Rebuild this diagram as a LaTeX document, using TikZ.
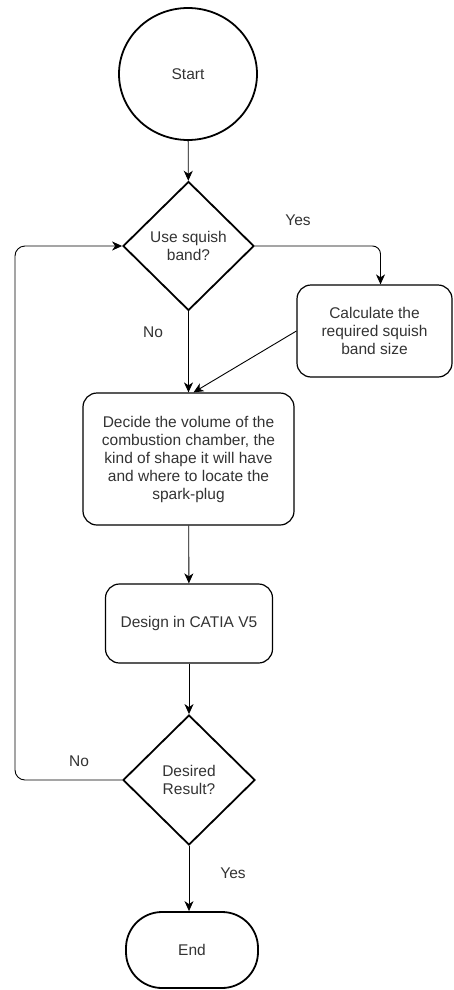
\documentclass[tikz,border=0pt]{standalone}
\usepackage{fontspec}
\setmainfont{Liberation Sans}
\usetikzlibrary{shapes.geometric,arrows.meta}
\definecolor{txtgray}{HTML}{333333}
\tikzset{
  terminal/.style={draw, ellipse, line width=1.8pt, inner sep=0pt},
  stopbox/.style={draw, rectangle, rounded corners=36pt, line width=1.8pt, inner sep=0pt},
  decision/.style={draw, diamond, line width=1.8pt, inner sep=0pt, align=center},
  process/.style={draw, rectangle, rounded corners=14pt, line width=1.2pt, inner sep=0pt, align=center},
  flow/.style={line width=0.9pt, -{Stealth[length=10pt, width=9pt, inset=3pt]}}
}

\begin{document}
\begin{tikzpicture}[x=1pt, y=-1pt, font=\fontsize{15.5}{18}\selectfont, text=txtgray]
  \useasboundingbox (0, 0) rectangle (454, 990);

  \node[terminal, minimum width=138pt, minimum height=132pt] (start) at (188, 74) {Start};
  \node[decision, minimum width=131pt, minimum height=129pt] (squish) at (188.5, 246) {Use squish\\band?};
  \node[process, minimum width=155pt, minimum height=92pt] (calc) at (374.5, 331)
    {Calculate the\\required squish\\band size};
  \node[process, minimum width=211pt, minimum height=132pt] (decide) at (188.5, 459)
    {Decide the volume of the\\combustion chamber, the\\kind of shape it will have\\and where to locate the\\spark-plug};
  \node[process, minimum width=167pt, minimum height=79pt] (catia) at (189, 623.5) {Design in CATIA V5};
  \node[decision, minimum width=132pt, minimum height=130pt] (result) at (189, 780) {Desired\\Result?};
  \node[stopbox, minimum width=132pt, minimum height=76pt] (stop) at (192, 950) {End};

  \coordinate (loopx) at (15, 0);

  \draw[flow] (start) -- (squish);
  \draw[flow, rounded corners=8pt] (squish.east) -| ([xshift=6pt]calc.north);
  \draw[flow] (squish) -- (decide);
  \draw[flow] (calc.west) -- ([xshift=5pt]decide.north);
  \draw[flow] (decide) -- (catia);
  \draw[flow] (catia) -- (result);
  \draw[flow] (result) -- (stop.north -| result.south);
  \draw[flow, rounded corners=10pt] (result.west) -- (result.west -| loopx) |- (squish.west);

  \node (yes1) at (298, 220) {Yes};
  \node (no1) at (153, 332) {No};
  \node (no2) at (79, 761) {No};
  \node (yes2) at (233, 873) {Yes};
\end{tikzpicture}
\end{document}
